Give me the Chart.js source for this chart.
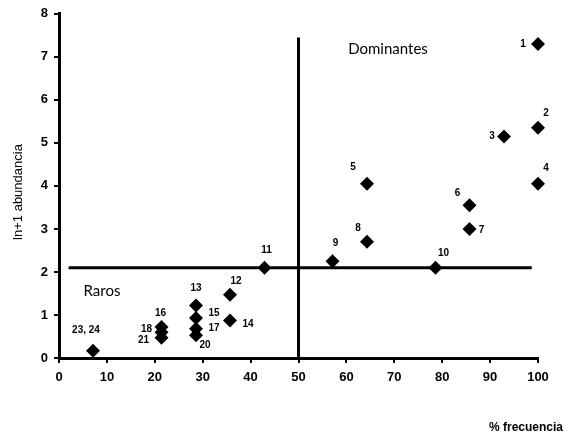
<!DOCTYPE html>
<html>
<head>
<meta charset="utf-8">
<script src="https://cdn.jsdelivr.net/npm/chart.js@4.4.1/dist/chart.umd.min.js"></script>
<style>
  html, body { margin: 0; padding: 0; background: #fff; }
  #wrap { width: 573px; height: 442px; }
</style>
</head>
<body>
<div id="wrap"><canvas id="quadrantChart" width="573" height="442"></canvas></div>
<script>
// species ids, % frecuencia, ln+1 abundancia
var speciesIds = ['1', '2', '3', '4', '5', '6', '7', '8', '9', '10', '11', '12', '13', '14', '15', '16', '17', '18', '20', '21', '23, 24'];
var frecuencia = [100, 100, 92.9, 100, 64.3, 85.7, 85.7, 64.3, 57.1, 78.6, 42.9, 35.7, 28.6, 35.7, 28.6, 21.4, 28.6, 21.4, 28.6, 21.4, 7.1];
var abundancia = [7.3, 5.35, 5.15, 4.05, 4.05, 3.55, 3.0, 2.7, 2.25, 2.1, 2.1, 1.47, 1.22, 0.87, 0.93, 0.72, 0.68, 0.6, 0.53, 0.47, 0.17];

// cut-off lines between the groups
var cutFrecuencia = 50;
var cutAbundancia = 2.1;
var vLineRange = [0, 7.45];
var hLineRange = [2, 98.7];

var xTicks = [0, 10, 20, 30, 40, 50, 60, 70, 80, 90, 100];
var yTicks = [0, 1, 2, 3, 4, 5, 6, 7, 8];

// pixel offsets of each id label from its diamond
var labelOffsets = [
	[-15, 0], [8, -15], [-12, 0], [8, -15], [-14, -16], [-12, -12], [12, 1], [-9, -14],
	[3, -18], [8, -14], [2, -17], [6, -14], [0, -17], [18, 4], [18, -5], [-1, -14],
	[18, 0], [-15, -3], [9, 10], [-18, 2], [-7, -20]
];

var points = frecuencia.map(function(f, i){ return {x: f, y: abundancia[i]}; });

var idLabels = {
	id: 'idLabels',
	afterDatasetsDraw: function(chart){
		var ctx = chart.ctx;
		var meta = chart.getDatasetMeta(2);
		ctx.save();
		ctx.fillStyle = '#000';
		ctx.font = 'bold 10px "Liberation Sans", Arial, sans-serif';
		ctx.textAlign = 'center';
		ctx.textBaseline = 'middle';
		meta.data.forEach(function(pt, i){
			var off = labelOffsets[i] || [0, -14];
			ctx.fillText(speciesIds[i], pt.x + off[0], pt.y + off[1]);
		});

		// group names
		ctx.font = '15px Lato, "DejaVu Sans", sans-serif';
		ctx.fillText('Dominantes', 388, 49);
		ctx.fillText('Raros', 102, 291);

		// axis titles
		ctx.font = 'bold 12px "Liberation Sans", Arial, sans-serif';
		ctx.fillText('% frecuencia', 526, 428);
		ctx.translate(18, 192);
		ctx.rotate(-Math.PI / 2);
		ctx.font = '13px "Liberation Sans", Arial, sans-serif';
		ctx.fillText('ln+1 abundancia', 0, 0);
		ctx.restore();
	}
};

var tickFont = { family: '"Liberation Sans", Arial, sans-serif', size: 13, weight: 'bold' };

var quadrantChart = new Chart(document.getElementById('quadrantChart'), {
	type: 'scatter',
	data: {
		datasets: [
			{
				type: 'line',
				data: [{x: cutFrecuencia, y: vLineRange[0]}, {x: cutFrecuencia, y: vLineRange[1]}],
				borderColor: '#000',
				borderWidth: 3,
				pointRadius: 0,
				showLine: true
			},
			{
				type: 'line',
				data: [{x: hLineRange[0], y: cutAbundancia}, {x: hLineRange[1], y: cutAbundancia}],
				borderColor: '#000',
				borderWidth: 3,
				pointRadius: 0,
				showLine: true
			},
			{
				data: points,
				clip: false,
				pointStyle: 'rectRot',
				pointRadius: 7,
				pointHoverRadius: 7,
				backgroundColor: '#000',
				borderColor: '#000',
				borderWidth: 0
			}
		]
	},
	options: {
		responsive: false,
		animation: false,
		layout: { padding: { top: 13, right: 35, left: 0, bottom: 0 } },
		plugins: {
			legend: { display: false },
			tooltip: { enabled: false }
		},
		scales: {
			x: {
				type: 'linear',
				min: 0,
				max: 100,
				afterBuildTicks: function(scale){ scale.ticks = xTicks.map(function(v){ return {value: v}; }); },
				afterFit: function(scale){ scale.height = 442 - 358; },
				border: { display: true, color: '#000', width: 3 },
				grid: { display: true, drawOnChartArea: false, color: '#000', lineWidth: 2, tickLength: 5 },
				ticks: { color: '#000', font: tickFont, padding: 7, maxRotation: 0 }
			},
			y: {
				type: 'linear',
				min: 0,
				max: 8,
				afterBuildTicks: function(scale){ scale.ticks = yTicks.map(function(v){ return {value: v}; }); },
				afterFit: function(scale){ scale.width = 59; },
				border: { display: true, color: '#000', width: 3 },
				grid: { display: true, drawOnChartArea: false, color: '#000', lineWidth: 2, tickLength: 5 },
				ticks: { color: '#000', font: tickFont, padding: 6 }
			}
		}
	},
	plugins: [idLabels]
});
</script>
</body>
</html>
